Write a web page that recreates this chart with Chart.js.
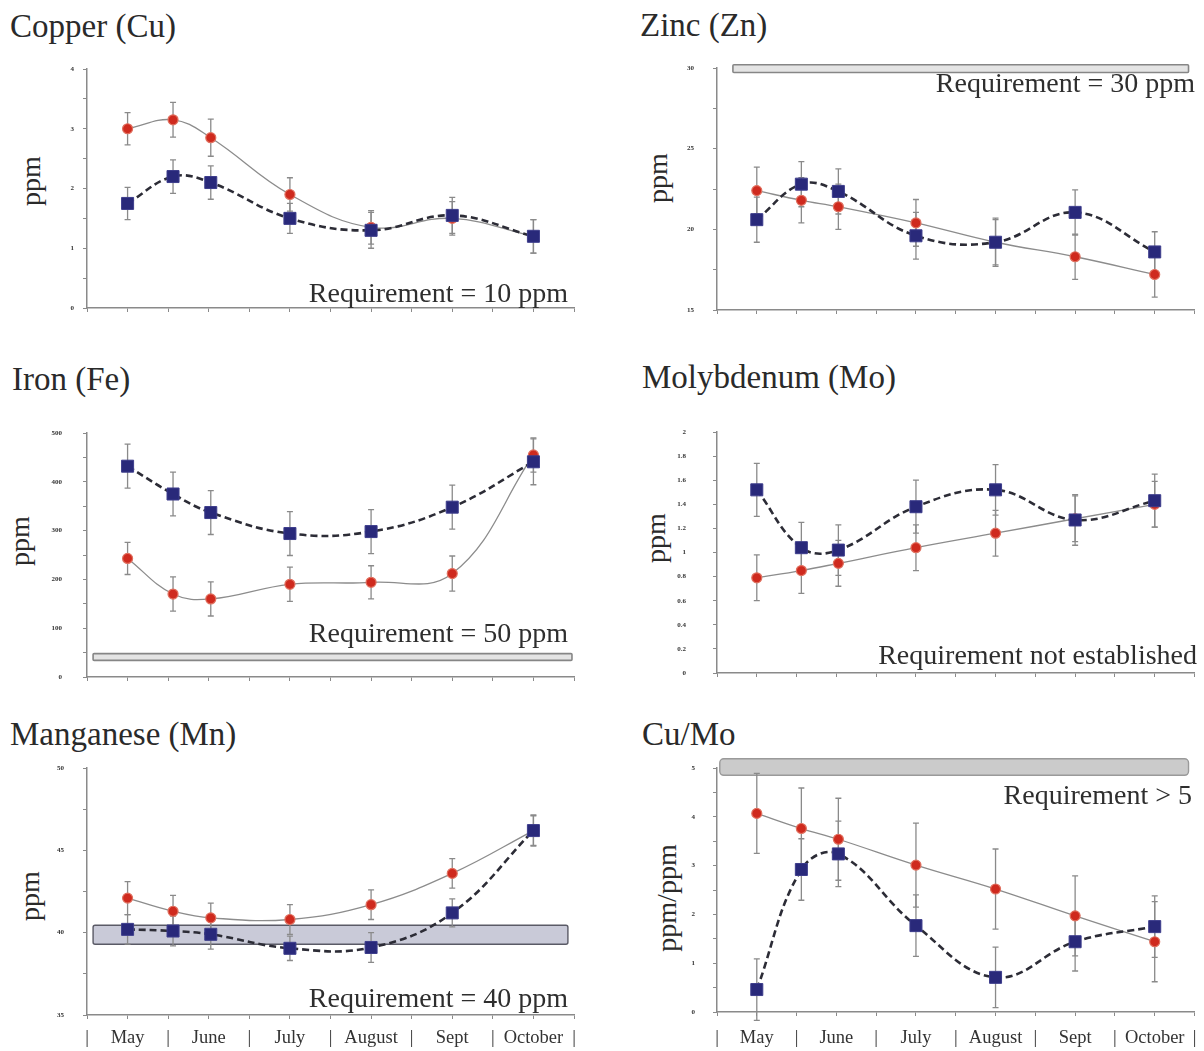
<!DOCTYPE html>
<html>
<head>
<meta charset="utf-8">
<script src="https://cdn.jsdelivr.net/npm/chart.js@4.4.1/dist/chart.umd.min.js"></script>
<style>
  body { margin: 0; background: #fff; width: 1204px; height: 1051px; overflow: hidden; position: relative;
         font-family: "Liberation Serif", "DejaVu Serif", serif; color: #2a2a2a; }
  canvas { position: absolute; }
  .title { position: absolute; font-size: 33px; line-height: 33px; white-space: nowrap; }
  .req { position: absolute; font-size: 28px; line-height: 28px; white-space: nowrap; text-align: right; color: #2e2e2e; }
  .ylab { position: absolute; font-size: 28px; line-height: 28px; white-space: nowrap;
          transform: translate(-50%, -50%) rotate(-90deg); }
</style>
</head>
<body>

<div class="title" style="left:10px;top:10px">Copper (Cu)</div>
<div class="title" style="left:640px;top:9px">Zinc (Zn)</div>
<div class="title" style="left:12px;top:363px">Iron (Fe)</div>
<div class="title" style="left:642px;top:361px">Molybdenum (Mo)</div>
<div class="title" style="left:10px;top:718px">Manganese (Mn)</div>
<div class="title" style="left:642px;top:718px">Cu/Mo</div>

<div class="ylab" style="left:31px;top:181px">ppm</div>
<div class="ylab" style="left:658px;top:178px">ppm</div>
<div class="ylab" style="left:20px;top:541px">ppm</div>
<div class="ylab" style="left:656px;top:538px">ppm</div>
<div class="ylab" style="left:30px;top:896px">ppm</div>
<div class="ylab" style="left:667px;top:898px">ppm/ppm</div>

<canvas id="cu" width="600" height="263" style="left:0;top:57px"></canvas>
<canvas id="zn" width="584" height="266" style="left:620px;top:56px"></canvas>
<canvas id="fe" width="600" height="268" style="left:0;top:421px"></canvas>
<canvas id="mo" width="584" height="265" style="left:620px;top:420px"></canvas>
<canvas id="mn" width="600" height="295" style="left:0;top:756px"></canvas>
<canvas id="cumo" width="584" height="295" style="left:620px;top:756px"></canvas>

<div class="req" style="right:636px;top:279px">Requirement = 10 ppm</div>
<div class="req" style="right:9px;top:69px">Requirement = 30 ppm</div>
<div class="req" style="right:636px;top:619px">Requirement = 50 ppm</div>
<div class="req" style="right:7px;top:641px">Requirement not established</div>
<div class="req" style="right:636px;top:984px">Requirement = 40 ppm</div>
<div class="req" style="right:12px;top:781px">Requirement &gt; 5</div>

<script>
// sampling dates, in half-month steps counted from 1 May
const sampleX = [1, 2.12, 3.05, 5, 7, 9, 11];
const months = ['May', 'June', 'July', 'August', 'Sept', 'October'];

// Copper, ppm
const cuRed = [3.0, 3.15, 2.85, 1.9, 1.35, 1.5, 1.2];
const cuRedErr = [0.27, 0.29, 0.31, 0.28, 0.28, 0.28, 0.28];
const cuBlue = [1.75, 2.2, 2.1, 1.5, 1.3, 1.55, 1.2];
const cuBlueErr = [0.27, 0.28, 0.28, 0.25, 0.3, 0.3, 0.28];
const cuTicks = [0, 1, 2, 3, 4];

// Zinc, ppm
const znRed = [22.4, 21.8, 21.4, 20.4, 19.2, 18.3, 17.2];
const znRedErr = [1.45, 1.4, 1.4, 1.45, 1.4, 1.4, 1.4];
const znBlue = [20.6, 22.8, 22.35, 19.6, 19.2, 21.05, 18.6];
const znBlueErr = [1.4, 1.4, 1.4, 1.45, 1.5, 1.4, 1.25];
const znTicks = [15, 20, 25, 30];
const znBand = [29.72, 30.2];

// Iron, ppm
const feRed = [243, 170, 160, 190, 194, 212, 455];
const feRedErr = [33, 35, 35, 35, 34, 36, 35];
const feBlue = [432, 375, 337, 294, 298, 348, 441];
const feBlueErr = [45, 45, 45, 45, 45, 45, 47];
const feTicks = [0, 100, 200, 300, 400, 500];
const feBand = [34, 48];

// Molybdenum, ppm
const moRed = [0.79, 0.85, 0.91, 1.04, 1.16, 1.28, 1.4];
const moRedErr = [0.19, 0.19, 0.19, 0.19, 0.19, 0.19, 0.19];
const moBlue = [1.52, 1.04, 1.02, 1.38, 1.52, 1.27, 1.43];
const moBlueErr = [0.22, 0.21, 0.21, 0.22, 0.21, 0.21, 0.22];
const moTicks = [0, 0.2, 0.4, 0.6, 0.8, 1, 1.2, 1.4, 1.6, 1.8, 2];

// Manganese, ppm
const mnRed = [42.1, 41.3, 40.9, 40.8, 41.7, 43.6, 46.2];
const mnRedErr = [1.0, 0.96, 0.9, 0.9, 0.9, 0.9, 0.9];
const mnBlue = [40.2, 40.1, 39.9, 39.05, 39.1, 41.2, 46.2];
const mnBlueErr = [0.9, 0.9, 0.9, 0.74, 0.9, 0.85, 0.95];
const mnTicks = [35, 40, 45, 50];
const mnBand = [39.3, 40.45];

// Cu/Mo ratio
const ratioRed = [4.07, 3.76, 3.54, 3.01, 2.52, 1.97, 1.44];
const ratioRedErr = [0.82, 0.83, 0.84, 0.86, 0.82, 0.82, 0.82];
const ratioBlue = [0.46, 2.92, 3.24, 1.77, 0.71, 1.44, 1.75];
const ratioBlueErr = [0.63, 0.63, 0.67, 0.63, 0.62, 0.6, 0.63];
const ratioTicks = [0, 1, 2, 3, 4, 5];
const ratioBand = [4.85, 5.19];

const AXIS = '#8a8a8a';

// vertical error bars, drawn under the lines and markers
const errorBars = {
  id: 'errorBars',
  beforeDatasetsDraw(chart) {
    const { ctx, scales: { x, y } } = chart;
    ctx.save();
    ctx.strokeStyle = '#8a8a8a';
    ctx.lineWidth = 1.3;
    chart.data.datasets.forEach(ds => {
      ds.data.forEach((p, i) => {
        const e = ds.errors[i];
        const px = x.getPixelForValue(p.x);
        const t = y.getPixelForValue(p.y + e);
        const b = y.getPixelForValue(p.y - e);
        ctx.beginPath();
        ctx.moveTo(px, t); ctx.lineTo(px, b);
        ctx.moveTo(px - 3, t); ctx.lineTo(px + 3, t);
        ctx.moveTo(px - 3, b); ctx.lineTo(px + 3, b);
        ctx.stroke();
      });
    });
    ctx.restore();
  }
};

// horizontal requirement band
const reqBand = {
  id: 'reqBand',
  beforeDatasetsDraw(chart, args, opts) {
    if (!opts || !opts.range) return;
    const { ctx, scales: { x, y } } = chart;
    const x0 = x.getPixelForValue(opts.from), x1 = x.getPixelForValue(opts.to);
    const y0 = y.getPixelForValue(opts.range[1]), y1 = y.getPixelForValue(opts.range[0]);
    ctx.save();
    ctx.beginPath();
    ctx.roundRect(x0, y0, x1 - x0, y1 - y0, opts.radius || 0);
    ctx.fillStyle = opts.fill;
    ctx.fill();
    ctx.lineWidth = opts.lineWidth;
    ctx.strokeStyle = opts.stroke;
    ctx.stroke();
    ctx.restore();
  }
};

function points(values) {
  return sampleX.map((x, i) => ({ x, y: values[i] }));
}

function fmt(v) {
  return String(+v.toFixed(2));
}

function makePanel(id, cfg) {
  const { red, redErr, blue, blueErr, ticks } = cfg;
  new Chart(document.getElementById(id), {
    type: 'line',
    data: {
      datasets: [
        {
          data: points(blue), errors: blueErr, order: 0,
          borderColor: '#2c2c36', borderWidth: 2.6, borderDash: [7, 4],
          pointStyle: 'rect', pointRadius: 8.5, pointBackgroundColor: '#29297a',
          pointBorderColor: '#3d3d8c', pointBorderWidth: 1, tension: 0.4
        },
        {
          data: points(red), errors: redErr, order: 1,
          borderColor: '#8c8c8c', borderWidth: 1.3,
          pointStyle: 'circle', pointRadius: 5, pointBackgroundColor: '#cf2a1e',
          pointBorderColor: '#e0705f', pointBorderWidth: 1.2, tension: 0.4
        }
      ]
    },
    options: {
      responsive: false,
      animation: false,
      events: [],
      layout: { padding: { top: 12, right: cfg.padRight, bottom: 0, left: 0 } },
      plugins: {
        legend: { display: false },
        tooltip: { enabled: false },
        reqBand: cfg.band || {}
      },
      scales: {
        x: {
          type: 'linear', min: 0, max: 12,
          border: { color: AXIS, width: 1.5 },
          grid: { display: true, drawOnChartArea: false, drawTicks: true, tickLength: 4, color: AXIS },
          ticks: {
            stepSize: 1, autoSkip: false, maxRotation: 0, padding: cfg.monthPad || 5,
            color: '#333', font: { family: '"Liberation Serif", serif', size: 18.5 },
            callback: v => cfg.months ? (v % 2 === 1 ? months[(v - 1) / 2] : '|') : ''
          },
          afterFit(s) { s.height = cfg.xHeight; s.paddingLeft = 0; s.paddingRight = 0; }
        },
        y: {
          min: cfg.min, max: cfg.max,
          border: { color: AXIS, width: 1.5 },
          grid: { display: true, drawOnChartArea: false, drawTicks: true, tickLength: 4, color: AXIS },
          ticks: {
            stepSize: cfg.step, padding: cfg.tickPad,
            color: '#333', font: { family: '"Liberation Serif", serif', size: 7, weight: 'bold' },
            callback: v => ticks.some(t => Math.abs(t - v) < 1e-6) ? fmt(v) : ''
          },
          afterFit(s) { s.width = cfg.yWidth; s.paddingTop = 0; s.paddingBottom = 0; }
        }
      }
    },
    plugins: [reqBand, errorBars]
  });
}

makePanel('cu', {
  red: cuRed, redErr: cuRedErr, blue: cuBlue, blueErr: cuBlueErr, ticks: cuTicks,
  min: 0, max: 4, step: 0.5, tickPad: 9, yWidth: 87, padRight: 26, xHeight: 12
});

makePanel('zn', {
  red: znRed, redErr: znRedErr, blue: znBlue, blueErr: znBlueErr, ticks: znTicks,
  min: 15, max: 30, step: 2.5, tickPad: 19, yWidth: 97, padRight: 0, xHeight: 12,
  band: { range: znBand, from: 0.4, to: 11.85, fill: '#e4e4e4', stroke: '#868686', lineWidth: 1.6, radius: 1 }
});

makePanel('fe', {
  red: feRed, redErr: feRedErr, blue: feBlue, blueErr: feBlueErr, ticks: feTicks,
  min: 0, max: 500, step: 50, tickPad: 21, yWidth: 87, padRight: 26, xHeight: 12,
  band: { range: feBand, from: 0.15, to: 11.95, fill: '#e4e4e4', stroke: '#868686', lineWidth: 1.6, radius: 1 }
});

makePanel('mo', {
  red: moRed, redErr: moRedErr, blue: moBlue, blueErr: moBlueErr, ticks: moTicks,
  min: 0, max: 2, step: 0.2, tickPad: 27, yWidth: 97, padRight: 0, xHeight: 12
});

makePanel('mn', {
  red: mnRed, redErr: mnRedErr, blue: mnBlue, blueErr: mnBlueErr, ticks: mnTicks,
  min: 35, max: 50, step: 2.5, tickPad: 19, yWidth: 87, padRight: 26, xHeight: 36, months: true, monthPad: 8,
  band: { range: mnBand, from: 0.15, to: 11.85, fill: '#c9cad8', stroke: '#5a5a66', lineWidth: 1.4, radius: 2 }
});

makePanel('cumo', {
  red: ratioRed, redErr: ratioRedErr, blue: ratioBlue, blueErr: ratioBlueErr, ticks: ratioTicks,
  min: 0, max: 5, step: 0.5, tickPad: 18, yWidth: 97, padRight: 0, xHeight: 39, months: true, monthPad: 11,
  band: { range: ratioBand, from: 0.07, to: 11.85, fill: '#cbcbcb', stroke: '#9a9a9a', lineWidth: 1.4, radius: 4 }
});
</script>
</body>
</html>
